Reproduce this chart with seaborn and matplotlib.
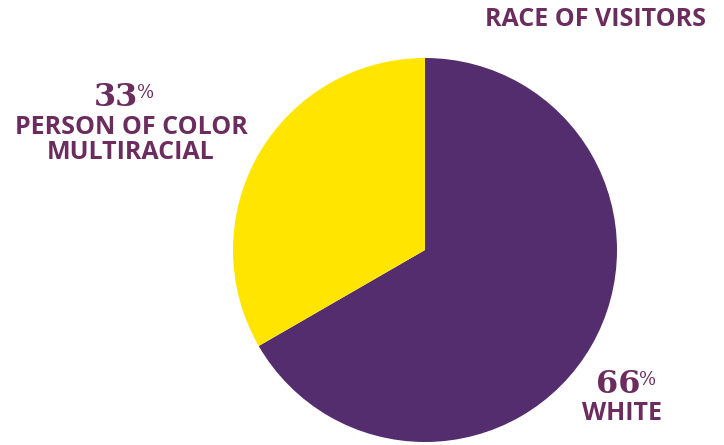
import matplotlib
matplotlib.use("Agg")
import matplotlib.pyplot as plt
import seaborn as sns

# race of visitors
categories = ["WHITE", "PERSON OF COLOR\nMULTIRACIAL"]
shares = [66, 33]
slice_colors = ["#532d6d", "#ffe500"]
text_color = "#6b2c5e"

sns.set_theme(style="white")
plt.rcParams['font.family'] = ['Open Sans', 'DejaVu Sans']

W, H = 724, 445
fig = plt.figure(figsize=(W / 100, H / 100), dpi=100)

# pie centre ~ (425, 250) px, radius ~ 192 px
cx, cy, r = 425, 250, 192
ax = fig.add_axes([(cx - r) / W, (H - cy - r) / H, 2 * r / W, 2 * r / H])
ax.pie(shares, colors=slice_colors, startangle=90, counterclock=False,
       radius=1, wedgeprops=dict(linewidth=0))
ax.set_xlim(-1, 1)
ax.set_ylim(-1, 1)
ax.set_aspect("equal")
ax.axis("off")


def px(x, y):
    return x / W, 1 - y / H


fig.text(*px(706, 20), "RACE OF VISITORS", ha="right", va="center",
         fontsize=18, fontweight="bold", color=text_color)

# label blocks: (value, number right edge, number baseline, label centre x, label centre y)
blocks = [
    (shares[1], 138, 106, 131, 140, categories[1]),
    (shares[0], 640, 393, 622, 413, categories[0]),
]
for val, nx, ny, lx, ly, lab in blocks:
    fig.text(*px(nx, ny), f"{val}", ha="right", va="baseline",
             fontsize=23, fontweight="bold", color=text_color,
             family=["DejaVu Serif"])
    fig.text(*px(nx - 1, ny - 8), "%", ha="left", va="baseline",
             fontsize=13, color=text_color, family=["DejaVu Serif"])
    fig.text(*px(lx, ly), lab, ha="center", va="center", fontsize=18,
             fontweight="bold", color=text_color, linespacing=1.0)

fig.savefig("out.png", dpi=100)
